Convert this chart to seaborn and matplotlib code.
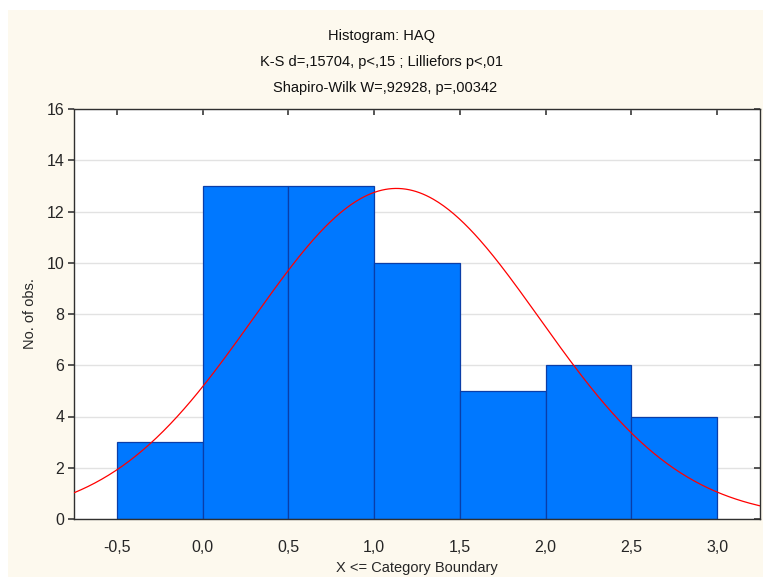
import numpy as np
import pandas as pd
import matplotlib
matplotlib.use("Agg")
import matplotlib.pyplot as plt
from matplotlib.patches import Rectangle
import seaborn as sns

# histogram data: bin edges and counts (No. of obs.)
bin_edges = [-0.5, 0.0, 0.5, 1.0, 1.5, 2.0, 2.5, 3.0]
bin_centers = [-0.25, 0.25, 0.75, 1.25, 1.75, 2.25, 2.75]
counts = [3, 13, 13, 10, 5, 6, 4]
x_ticks = [-0.5, 0.0, 0.5, 1.0, 1.5, 2.0, 2.5, 3.0]
x_tick_labels = ["-0,5", "0,0", "0,5", "1,0", "1,5", "2,0", "2,5", "3,0"]
y_ticks = [0, 2, 4, 6, 8, 10, 12, 14, 16]

# fitted normal curve parameters
fit_mean = 1.13
fit_sd = 0.835
n_obs = sum(counts)
bin_width = 0.5

title_lines = ["Histogram: HAQ",
               "K-S d=,15704, p<,15 ; Lilliefors p<,01",
               "Shapiro-Wilk W=,92928, p=,00342"]

sns.set_theme(style="white")
plt.rcParams["font.family"] = ["Liberation Sans", "DejaVu Sans"]

fig = plt.figure(figsize=(7.63, 5.77), dpi=100, facecolor="white")
fig.patches.append(Rectangle((8 / 763, 0), 1, 1 - 10 / 577, transform=fig.transFigure,
                             facecolor="#fdf9ee", edgecolor="none", zorder=-10))
ax = fig.add_axes([74 / 763, 1 - 519 / 577, (760 - 74) / 763, (519 - 109) / 577])
ax.set_facecolor("white")

df = pd.DataFrame({"x": bin_centers, "n": counts})
sns.histplot(data=df, x="x", weights="n", bins=bin_edges, ax=ax,
             color="#0078ff", alpha=1.0, edgecolor="#0a3ea8", linewidth=0.9, zorder=2)

xs = np.linspace(-0.75, 3.25, 400)
ys = n_obs * bin_width / (fit_sd * np.sqrt(2 * np.pi)) * np.exp(-0.5 * ((xs - fit_mean) / fit_sd) ** 2)
sns.lineplot(x=xs, y=ys, ax=ax, color="#ff0000", linewidth=0.9, zorder=3)

ax.set_xlim(-0.75, 3.25)
ax.set_ylim(0, 16)
ax.set_xticks(x_ticks)
ax.set_xticklabels(x_tick_labels)
ax.set_yticks(y_ticks)
ax.yaxis.grid(True, color="#e2e2e2", linewidth=1.0, zorder=0)
ax.set_axisbelow(True)

ax.tick_params(axis="x", which="both", bottom=False, top=True, direction="in",
               length=4, color="#404040", labelsize=11.5, pad=15)
ax.tick_params(axis="y", which="both", left=True, right=True, direction="out",
               length=4, color="#404040", labelsize=11.5, pad=3)
# right-side ticks point inward
for t in ax.yaxis.get_major_ticks():
    t.tick2line.set_marker(matplotlib.lines.TICKLEFT)
for side in ["left", "bottom", "top", "right"]:
    ax.spines[side].set_color("#303030")
    ax.spines[side].set_linewidth(1.0)

ax.set_xlabel("X <= Category Boundary", fontsize=10.5)
ax.set_ylabel("No. of obs.", fontsize=10.5)
ax.xaxis.set_label_coords(0.5, (519 - 568) / 410)
ax.xaxis.label.set_va("center")
ax.yaxis.set_label_coords((30 - 74) / 686, 0.5)
ax.yaxis.label.set_va("center")

for i, line in enumerate(title_lines):
    fig.text(0.5 + (4 / 763 if i == 2 else 0), 1 - (36 + 26 * i) / 577, line,
             ha="center", va="center", fontsize=10.5, color="#101010")

fig.savefig("out.png", dpi=100, facecolor=fig.get_facecolor())
